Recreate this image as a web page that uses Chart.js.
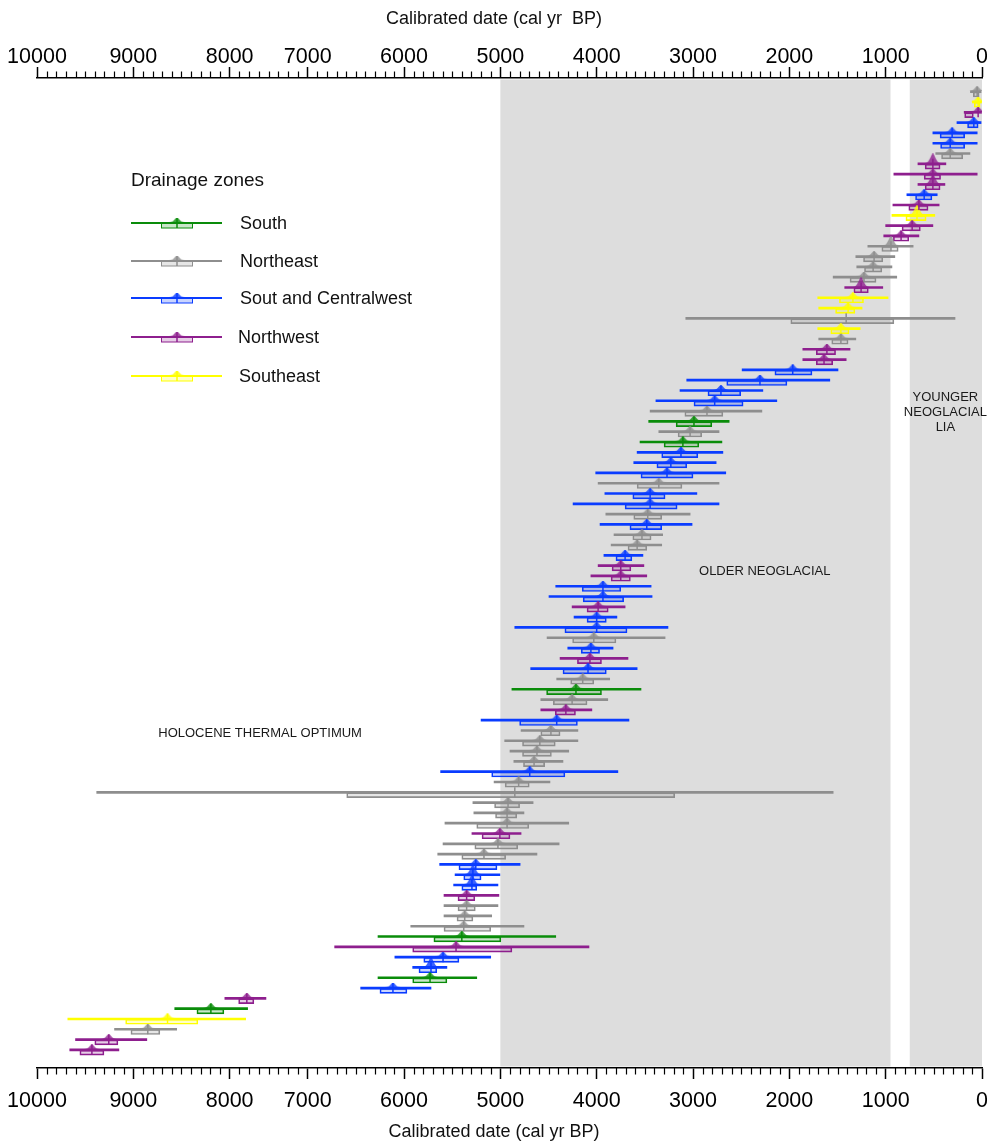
<!DOCTYPE html>
<html>
<head>
<meta charset="utf-8">
<title>Calibrated radiocarbon dates by drainage zone</title>
<script src="https://cdn.jsdelivr.net/npm/chart.js@4.4.1/dist/chart.umd.min.js"></script>
<style>
  html, body { margin: 0; padding: 0; background: #ffffff; }
  #wrap { width: 987px; height: 1142px; position: relative; }
  canvas { display: block; }
</style>
</head>
<body>
<div id="wrap"><canvas id="chart" width="987" height="1142"></canvas></div>
<script>
// ---- Drainage zones ----
const zoneKeys  = ['S', 'N', 'C', 'W', 'E'];
const zoneNames = ['South', 'Northeast', 'Sout and Centralwest', 'Northwest', 'Southeast'];

// ---- Dated samples, youngest first (cal yr BP) ----
const sampleZone = [
  'N','E','W','C','C','C','N','W','W','W',
  'C','W','E','W','W','N','N','N','N','W',
  'E','E','N','E','N','W','W','C','C','C',
  'C','N','S','N','S','C','C','C','N','C',
  'C','N','C','N','N','C','W','W','C','C',
  'W','C','C','N','C','W','C','N','S','N',
  'W','C','N','N','N','N','C','N','N','N',
  'N','N','W','N','N','C','C','C','W','N',
  'N','N','S','W','C','C','S','C','W','S',
  'E','N','W','W'
];
// full calibrated range (young / old end)
const rangeYoung = [
  10,5,5,10,50,50,125,375,50,385,
  465,445,490,510,655,715,905,935,885,1030,
  975,1245,280,1265,1310,1370,1410,1495,1580,2275,
  2130,2285,2625,2730,2700,2690,2760,2660,2730,2960,
  2730,3030,3010,3315,3325,3520,3510,3480,3435,3425,
  3705,3790,3260,3290,3830,3675,3580,3865,3540,3885,
  4050,3665,4195,4195,4290,4350,3780,4485,1545,4660,
  4755,4290,4785,4390,4620,4795,5005,5025,5015,5025,
  5090,4755,4425,4080,5100,5555,5245,5720,7535,7770,
  7795,8550,8860,9150
];
const rangeOld = [
  120,100,185,260,510,510,480,665,915,665,
  780,925,935,1000,1020,1185,1310,1300,1545,1425,
  1705,1695,3075,1705,1695,1860,1860,2490,3065,3135,
  3385,3445,3460,3355,3550,3580,3615,4010,3985,3915,
  4245,3905,3965,3820,3850,3925,3985,4060,4425,4495,
  4255,4235,4850,4515,4300,4380,4685,4415,4880,4580,
  4580,5200,4785,4955,4900,4860,5620,5065,9380,5285,
  5275,5575,5295,5595,5650,5630,5470,5485,5585,5585,
  5585,5930,6270,6720,6095,5910,6270,6450,8050,8570,
  9680,9195,9600,9660
];
// inner (1-sigma) range
const boxYoung = [
  30,20,90,40,180,180,200,435,430,435,
  520,560,580,640,760,870,1030,1040,1100,1180,
  1230,1320,915,1380,1390,1520,1550,1765,2025,2505,
  2480,2690,2805,2910,2940,2950,3065,3000,3115,3290,
  3165,3325,3325,3435,3480,3635,3645,3650,3750,3720,
  3880,3900,3685,3800,3970,3950,3900,4030,3950,4100,
  4220,4200,4380,4430,4470,4540,4330,4700,3190,4800,
  4830,4705,4900,4820,4945,5035,5200,5245,5265,5260,
  5285,5100,4995,4880,5430,5660,5555,5970,7690,8060,
  8330,8725,9160,9305
];
const boxOld = [
  90,80,180,150,435,430,420,590,600,590,
  690,760,790,830,920,1040,1230,1220,1370,1330,
  1480,1520,1985,1570,1560,1720,1720,2150,2650,2845,
  2990,3085,3175,3155,3300,3325,3375,3540,3580,3625,
  3705,3615,3655,3625,3675,3800,3840,3850,4150,4140,
  4100,4100,4330,4250,4160,4200,4350,4270,4520,4450,
  4430,4800,4580,4770,4770,4760,5090,4950,6595,5060,
  5050,5245,5190,5265,5400,5430,5380,5400,5440,5440,
  5450,5585,5690,5910,5795,5845,5910,6250,7885,8340,
  9080,9025,9400,9555
];
// median calibrated age
const medianAge = [
  50,40,40,85,310,330,330,510,510,510,
  600,655,675,725,840,945,1120,1130,1225,1255,
  1340,1390,1410,1465,1465,1610,1640,1965,2305,2710,
  2775,2855,2990,3030,3105,3125,3230,3270,3355,3445,
  3445,3470,3480,3530,3580,3705,3750,3750,3935,3935,
  3985,4000,4000,4030,4060,4070,4090,4145,4215,4255,
  4320,4415,4475,4590,4620,4650,4695,4810,4850,4920,
  4930,4930,5005,5025,5170,5255,5285,5295,5350,5350,
  5370,5380,5400,5460,5595,5720,5730,6115,7780,8195,
  8645,8850,9255,9430
];
// relative height of the probability peak (0 = flat)
const peakDensity = [
  1,1,1,1,1,1,1,2,1,2,
  1,1,2,1,1,2,1,1,1,2,
  1,1,0,1,1,1,1,1,1,1,
  1,1,1,1,1,1,1,1,1,1,
  1,1,1,1,1,1,1,1,1,1,
  1,1,1,1,1,1,1,1,1,1,
  1,1,1,1,1,1,1,1,0,1,
  1,1,1,1,1,1,2,2,1,1,
  1,1,1,1,1,2,1,1,1,1,
  1,1,1,1
];

// ---- Axis ticks ----
const majorTickYears = [0, 1000, 2000, 3000, 4000, 5000, 6000, 7000, 8000, 9000, 10000];
// relative drawn length of each millennium (the 7000-8000 span is compressed)
const spanWeights = [1, 1, 1, 1, 1, 1, 1, 0.81, 1, 1];
// number of minor intervals in each millennium
const spanMinorCounts = [10, 10, 10, 10, 10, 10, 10, 8, 10, 10];

// ---- Climate periods ----
const shadedPeriods = [[950, 5000], [0, 750]];
const periodNotes = [
  { lines: ['HOLOCENE THERMAL OPTIMUM'], year: 7610, row: 62.3 },
  { lines: ['OLDER NEOGLACIAL'], year: 2255, row: 46.6 },
  { lines: ['YOUNGER', 'NEOGLACIAL', 'LIA'], year: 380, row: 29.7 }
];

// ---- Styles ----
const FONT = '"Liberation Sans", Arial, Helvetica, sans-serif';
const zoneColors = { S: '#0a8c0a', N: '#8e8e8e', C: '#0a3cff', W: '#8e1f8e', E: '#ffff00' };
function withAlpha(hex, a) {
  const n = parseInt(hex.slice(1), 16);
  return `rgba(${(n >> 16) & 255},${(n >> 8) & 255},${n & 255},${a})`;
}

// piecewise time scale: value -> fraction of axis length
const cumWeights = [0];
spanWeights.forEach(w => cumWeights.push(cumWeights[cumWeights.length - 1] + w));
const totalWeight = cumWeights[cumWeights.length - 1];
function yearToFraction(v) {
  const k = Math.max(0, Math.min(spanWeights.length - 1, Math.floor(v / 1000)));
  return (cumWeights[k] + ((v - k * 1000) / 1000) * spanWeights[k]) / totalWeight;
}
function fractionToYear(f) {
  const w = f * totalWeight;
  let k = 0;
  while (k < spanWeights.length - 1 && w > cumWeights[k + 1]) k++;
  return k * 1000 + ((w - cumWeights[k]) / spanWeights[k]) * 1000;
}

class CalibratedScale extends Chart.LinearScale {
  static id = 'calibrated';
  getPixelForValue(value) {
    if (value === null || value === undefined || isNaN(value)) return NaN;
    return this.getPixelForDecimal(yearToFraction(value));
  }
  getValueForPixel(pixel) {
    return fractionToYear(this.getDecimalForPixel(pixel));
  }
}
Chart.register(CalibratedScale);

const minorTickYears = [];
spanMinorCounts.forEach((n, k) => {
  for (let j = 1; j < n; j++) minorTickYears.push(k * 1000 + (1000 * j) / n);
});

// probability "hat" glyphs drawn above each median
function makeHat(color, w, h) {
  const c = document.createElement('canvas');
  c.width = w; c.height = h;
  const g = c.getContext('2d');
  g.fillStyle = withAlpha(color, 0.8);
  g.beginPath();
  g.moveTo(0, h);
  g.bezierCurveTo(w * 0.3, h, w * 0.4, 0, w / 2, 0);
  g.bezierCurveTo(w * 0.6, 0, w * 0.7, h, w, h);
  g.closePath();
  g.fill();
  return c;
}
const hatSizes = { 1: [16, 5], 2: [16, 10] };
const hats = {};
zoneKeys.forEach(z => {
  hats[z] = { 1: makeHat(zoneColors[z], 16, 5), 2: makeHat(zoneColors[z], 16, 10) };
});

// ---- Datasets ----
const rows = sampleZone.map((z, i) => i);
const datasets = [];
zoneKeys.forEach((z, zi) => {
  const idx = rows.filter(i => sampleZone[i] === z);
  const col = zoneColors[z];
  datasets.push({
    type: 'bar', label: zoneNames[zi] + ' range', indexAxis: 'y', grouped: false,
    xAxisID: 'x', yAxisID: 'y',
    data: idx.map(i => ({ y: i, x: [rangeYoung[i], rangeOld[i]] })),
    backgroundColor: col, borderWidth: 0, barThickness: 2, order: 3
  });
  datasets.push({
    type: 'bar', label: zoneNames[zi] + ' 1 sigma', indexAxis: 'y', grouped: false,
    xAxisID: 'x', yAxisID: 'y',
    data: idx.map(i => ({ y: i + 0.27, x: [boxYoung[i], boxOld[i]] })),
    backgroundColor: withAlpha(col, 0.22), borderColor: col, borderWidth: 1,
    borderSkipped: false, barThickness: 5, order: 4
  });
  const peaked = idx.filter(i => peakDensity[i] > 0);
  datasets.push({
    type: 'scatter', label: zoneNames[zi] + ' peak', xAxisID: 'x', yAxisID: 'y',
    data: peaked.map(i => ({ x: medianAge[i], y: i, p: peakDensity[i] })),
    pointStyle: ctx => hats[z][ctx.raw ? ctx.raw.p : 1],
    pointRadius: 3, order: 2
  });
  datasets.push({
    type: 'scatter', label: zoneNames[zi] + ' median', xAxisID: 'x', yAxisID: 'y',
    data: idx.map(i => ({ x: medianAge[i], y: i })),
    pointStyle: 'line', rotation: 90, pointRadius: 5,
    pointBorderWidth: 1.5, pointBorderColor: col, borderColor: col, order: 1
  });
});

// shift the hats so they sit on top of the range line
const hatLift = {
  id: 'hatLift',
  afterDatasetsUpdate(chart) {
    chart.data.datasets.forEach((ds, di) => {
      if (!ds.label.endsWith('peak')) return;
      const meta = chart.getDatasetMeta(di);
      meta.data.forEach((pt, j) => {
        const h = hatSizes[ds.data[j].p][1];
        pt.y = pt.y - h / 2 - 0.5;
      });
    });
  }
};

const backdrop = {
  id: 'backdrop',
  beforeDraw(chart) {
    const { ctx, chartArea } = chart;
    const x = chart.scales.x;
    ctx.save();
    ctx.fillStyle = '#dddddd';
    shadedPeriods.forEach(([a, b]) => {
      const p1 = x.getPixelForValue(a), p2 = x.getPixelForValue(b);
      ctx.fillRect(Math.min(p1, p2), chartArea.top + 1.5, Math.abs(p2 - p1), chartArea.bottom - chartArea.top - 3);
    });
    ctx.restore();
  }
};

const minorTicks = {
  id: 'minorTicks',
  afterDraw(chart) {
    const ctx = chart.ctx;
    ctx.save();
    ctx.strokeStyle = '#000';
    ctx.lineWidth = 1.2;
    ['x', 'x2'].forEach(id => {
      const s = chart.scales[id];
      const isTop = s.options.position === 'top';
      const y0 = isTop ? s.bottom : s.top;
      const dir = isTop ? -1 : 1;
      ctx.beginPath();
      minorTickYears.forEach(v => {
        const p = Math.round(s.getPixelForValue(v)) + 0.5;
        ctx.moveTo(p, y0);
        ctx.lineTo(p, y0 + dir * 6.5);
      });
      ctx.stroke();
    });
    ctx.restore();
  }
};

const annotations = {
  id: 'annotations',
  afterDraw(chart) {
    const { ctx } = chart;
    const x = chart.scales.x, y = chart.scales.y;
    ctx.save();
    // axis titles
    ctx.fillStyle = '#111';
    ctx.font = `18px ${FONT}`;
    ctx.textAlign = 'center';
    ctx.textBaseline = 'middle';
    ctx.fillText('Calibrated date (cal yr  BP)', 494, 19);
    ctx.fillText('Calibrated date (cal yr BP)', 494, 1132);

    // period labels
    ctx.font = `13px ${FONT}`;
    ctx.fillStyle = '#1a1a1a';
    periodNotes.forEach(n => {
      const px = x.getPixelForValue(n.year);
      const py = y.getPixelForValue(n.row);
      n.lines.forEach((t, k) => ctx.fillText(t, px, py + k * 14.7));
    });

    // legend
    ctx.textAlign = 'left';
    ctx.fillStyle = '#111';
    ctx.font = `19px ${FONT}`;
    ctx.fillText('Drainage zones', 131, 181);
    const legendY = [223, 261, 298, 337, 376];
    const labelX = [240, 240, 240, 238, 239];
    zoneKeys.forEach((z, k) => {
      const col = zoneColors[z];
      const ly = legendY[k];
      ctx.fillStyle = withAlpha(col, 0.22);
      ctx.fillRect(161, ly + 0.5, 32, 4.5);
      ctx.strokeStyle = col;
      ctx.lineWidth = 1;
      ctx.strokeRect(161.5, ly + 0.5, 31, 4.5);
      ctx.fillStyle = col;
      ctx.fillRect(131, ly - 1, 91, 2);
      ctx.drawImage(hats[z][1], 177 - 8, ly - 5.5);
      ctx.lineWidth = 1.5;
      ctx.beginPath();
      ctx.moveTo(177, ly - 5);
      ctx.lineTo(177, ly + 5);
      ctx.stroke();
      ctx.fillStyle = '#111';
      ctx.font = `18px ${FONT}`;
      ctx.fillText(zoneNames[k], labelX[k], ly + 1);
    });
    ctx.restore();
  }
};

function timeAxis(position, height, pad) {
  return {
    type: 'calibrated',
    axis: 'x',
    position,
    min: 0,
    max: 10000,
    reverse: true,
    offset: false,
    afterFit(scale) {
      scale.height = height;
      scale.paddingLeft = 0;
      scale.paddingRight = 0;
    },
    border: { display: true, color: '#000', width: 1.5 },
    grid: {
      display: true, offset: false, drawOnChartArea: false, drawTicks: true,
      tickLength: 11, tickWidth: 1.5, tickColor: '#000'
    },
    ticks: {
      stepSize: 1000, autoSkip: false, maxRotation: 0, minRotation: 0,
      padding: pad, color: '#000',
      font: { family: FONT, size: 21.5 },
      callback: v => String(v)
    },
    title: { display: false }
  };
}

new Chart(document.getElementById('chart'), {
  type: 'scatter',
  data: { datasets },
  options: {
    responsive: false,
    animation: false,
    devicePixelRatio: 1,
    events: [],
    layout: { autoPadding: false, padding: { left: 37, right: 5, top: 0, bottom: 0 } },
    plugins: { legend: { display: false }, tooltip: { enabled: false }, title: { display: false } },
    scales: {
      x: timeAxis('bottom', 74, 9),
      x2: timeAxis('top', 78, -3),
      y: {
        type: 'linear', display: false, reverse: true, offset: false,
        grid: { offset: false }, grace: 0,
        min: -1.33, max: 94.76
      }
    }
  },
  plugins: [backdrop, hatLift, minorTicks, annotations]
});
</script>
</body>
</html>
